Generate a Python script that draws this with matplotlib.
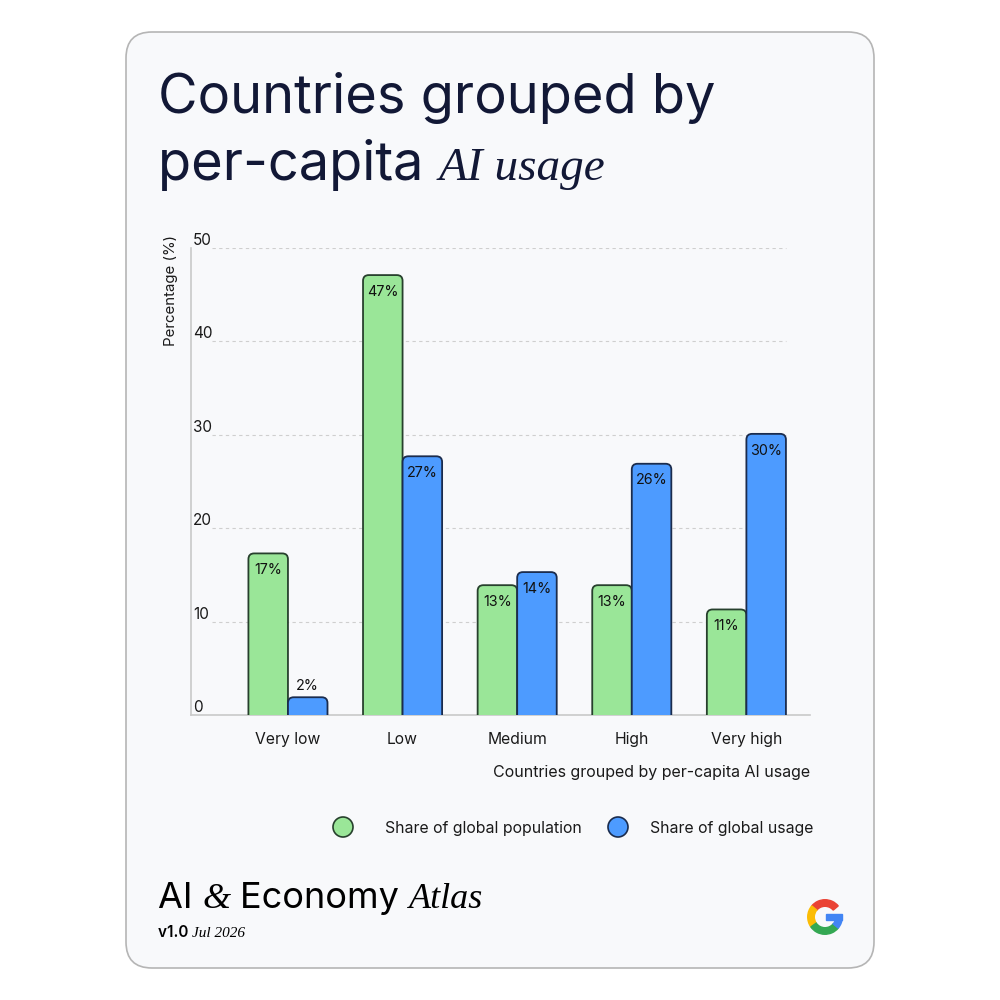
import matplotlib.pyplot as plt
from matplotlib.patches import FancyBboxPatch, Circle, Wedge, Rectangle

# data
categories = ["Very low", "Low", "Medium", "High", "Very high"]
population = [17.3, 47.1, 13.9, 13.9, 11.3]
usage = [1.9, 27.7, 15.3, 26.9, 30.1]
pop_labels = ["17%", "47%", "13%", "13%", "11%"]
use_labels = ["2%", "27%", "14%", "26%", "30%"]
yticks = [0, 10, 20, 30, 40, 50]

SANS = "Inter"
SERIF = "Liberation Serif"
NAVY = "#121836"
GREEN = "#9ae698"
BLUE = "#4d9bff"
GREEN_EDGE = "#27402d"
BLUE_EDGE = "#1b2c4d"

plt.rcParams["font.family"] = [SANS, "DejaVu Sans"]

fig = plt.figure(figsize=(10, 10), dpi=100)
fig.patch.set_facecolor("white")


def fx(px):
    return px / 1000


def fy(py):
    return 1 - py / 1000


# card background
card = FancyBboxPatch((fx(126), fy(968)), fx(748), fx(936),
                      boxstyle="round,pad=0,rounding_size=0.026",
                      transform=fig.transFigure, facecolor="#f8f9fb",
                      edgecolor="#b5b5b5", linewidth=1.2, zorder=-10)
fig.patches.append(card)

renderer = fig.canvas.get_renderer()


def run_text(x, y, pieces):
    # pieces: list of (text, kwargs); drawn one after another on one baseline
    for s, kw in pieces:
        t = fig.text(fx(x), fy(y), s, va="baseline", ha="left", **kw)
        x += t.get_window_extent(renderer).width


title_kw = dict(fontsize=39, color=NAVY, family=SANS)
ital_kw = dict(fontsize=34, color=NAVY, family=SERIF, style="italic")
run_text(158, 113, [("Countries grouped by", title_kw)])
run_text(158, 180, [("per-capita ", title_kw), ("AI usage", ital_kw)])

# chart
ax = fig.add_axes([fx(191), fy(715), fx(619), fx(467)])
ax.set_facecolor("none")
x = list(range(len(categories)))
w = 0.345
b1 = ax.bar([i - w / 2 for i in x], population, w, color=GREEN)
b2 = ax.bar([i + w / 2 for i in x], usage, w, color=BLUE)
ax.set_xlim(-0.846, 4.555)
ax.set_ylim(0, 50)

for bars, fc, ec, labels in [(b1, GREEN, GREEN_EDGE, pop_labels),
                             (b2, BLUE, BLUE_EDGE, use_labels)]:
    for r, lab in zip(bars, labels):
        x0, h, bw = r.get_x(), r.get_height(), r.get_width()
        r.set_visible(False)
        p = FancyBboxPatch((x0, -3), bw, h + 3,
                           boxstyle="round,pad=0,rounding_size=0.05",
                           mutation_aspect=12.3, facecolor=fc, edgecolor=ec,
                           linewidth=1.3, zorder=3, clip_on=True)
        ax.add_patch(p)
        if h < 5:
            ax.annotate(lab, (x0 + bw / 2, h), xytext=(0, 8),
                        textcoords="offset points", ha="center", va="center",
                        fontsize=10.3, color="#111111", zorder=4)
        else:
            ax.annotate(lab, (x0 + bw / 2, h), xytext=(0, -12),
                        textcoords="offset points", ha="center", va="center",
                        fontsize=10.3, color="#111111", zorder=4)

for s in ["top", "right"]:
    ax.spines[s].set_visible(False)
for s in ["left", "bottom"]:
    ax.spines[s].set_color("#c9c9c9")
    ax.spines[s].set_linewidth(1.2)

ax.set_yticks([])
ax.set_xticks(x)
ax.set_xticklabels(categories, fontsize=11.3, color="#1a1a1a")
ax.tick_params(axis="x", length=0, pad=12)

for v in yticks:
    if v > 0:
        ax.axhline(v, xmin=0.034, xmax=0.961, color="#cfcfcf",
                   linestyle=(0, (3, 3)), linewidth=0.8, zorder=1)
    ax.text(0.003, v, str(v), transform=ax.get_yaxis_transform(),
            ha="left", va="bottom", fontsize=11, color="#1a1a1a")

fig.text(fx(171), fy(290), "Percentage (%)", rotation=90, ha="center",
         va="center", fontsize=10.8, color="#1a1a1a")
fig.text(fx(810), fy(773), "Countries grouped by per-capita AI usage",
         ha="right", va="center", fontsize=11.5, color="#1a1a1a")

# legend
for cx, col, ec, lab, tx in [(343, GREEN, GREEN_EDGE, "Share of global population", 385),
                            (618, BLUE, BLUE_EDGE, "Share of global usage", 650)]:
    fig.patches.append(Circle((fx(cx), fy(827)), fx(10), transform=fig.transFigure,
                              facecolor=col, edgecolor=ec, linewidth=1.2))
    fig.text(fx(tx), fy(828), lab, ha="left", va="center", fontsize=11.4,
             color="#1a1a1a")

# footer
foot_kw = dict(fontsize=26, color="black", family=SANS)
foot_it = dict(fontsize=26, color="black", family=SERIF, style="italic")
run_text(158, 908, [("AI ", foot_kw), ("& ", foot_it), ("Economy ", foot_kw),
                    ("Atlas", foot_it)])
run_text(158, 937, [("v1.0 ", dict(fontsize=11, color="black", family=SANS,
                                   weight="semibold")),
                    ("Jul 2026", dict(fontsize=11, color="black", family=SERIF,
                                      style="italic"))])

# google G
gax = fig.add_axes([fx(806), fy(936), fx(38), fx(38)])
gax.set_xlim(-1.1, 1.1)
gax.set_ylim(-1.1, 1.1)
gax.set_aspect("equal")
gax.axis("off")
for t1, t2, c in [(40, 140, "#ea4335"), (140, 215, "#fbbc05"),
                  (215, 320, "#34a853"), (320, 360, "#4285f4")]:
    gax.add_patch(Wedge((0, 0), 1, t1, t2, width=0.38, color=c))
gax.add_patch(Rectangle((0.05, -0.18), 0.95, 0.36, color="#4285f4"))

fig.savefig("out.png", dpi=100)
